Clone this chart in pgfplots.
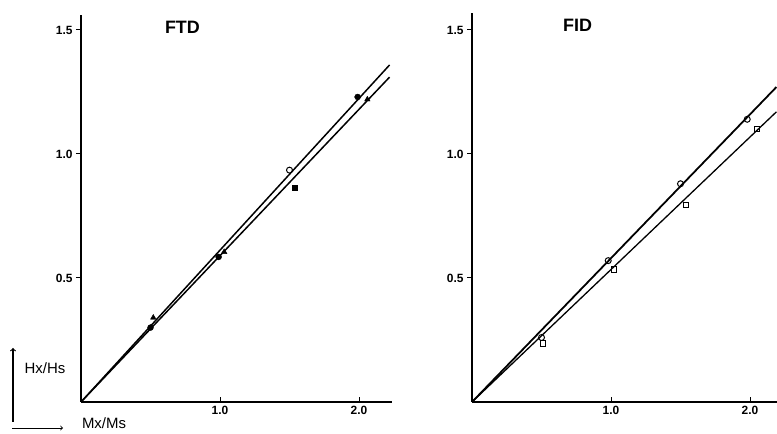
\documentclass[border=0pt]{standalone}
\usepackage{pgfplots}
\pgfplotsset{compat=1.18}
\usepackage{fontspec}
\setmainfont{Liberation Sans}
\begin{document}
\begin{tikzpicture}
\useasboundingbox (0,0) rectangle (777bp,434bp);
\pgfplotsset{panel/.style={
  x=139bp, y=248bp, anchor=origin, xmin=0, ymin=0,
  axis x line=bottom, axis y line=left,
  axis line style={-, line width=1.4pt},
  xtick={1,2}, ytick={0.5,1,1.5},
  xticklabels={1.0,2.0}, yticklabels={0.5,1.0,1.5},
  tick style={black, line width=1pt},
  major tick length=5bp,
  xtick align=inside, ytick align=outside,
  tick label style={font=\fontsize{12}{12}\selectfont\bfseries},
  xticklabel style={yshift=-1bp},
  clip=false,
}}
% Left panel: FTD
\begin{axis}[panel, at={(81bp,32bp)}, xmax=2.24, ymax=1.56]
  \addplot[black, line width=1.5pt] coordinates {(0,0) (2.22,1.359)};
  \addplot[black, line width=1.5pt] coordinates {(0,0) (2.22,1.31)};
  \addplot[only marks, mark=*, mark size=3pt, black] coordinates {(0.50,0.30) (0.99,0.585) (1.99,1.23)};
  \addplot[only marks, mark=o, mark size=3pt, black, line width=1pt] coordinates {(1.50,0.935)};
  \addplot[only marks, mark=square*, mark size=2.6pt, black] coordinates {(1.54,0.865)};
  \addplot[only marks, mark=triangle*, mark size=3.2pt, black] coordinates {(0.52,0.34) (1.03,0.605) (2.06,1.22)};
  \node[font=\fontsize{18}{18}\selectfont\bfseries] at (axis cs:0.73,1.51) {FTD};
\end{axis}
% Right panel: FID
\begin{axis}[panel, at={(472bp,32bp)}, xmax=2.2, ymax=1.57]
  \addplot[black, line width=1.8pt] coordinates {(0,0) (2.19,1.27)};
  \addplot[black, line width=1.3pt] coordinates {(0,0) (2.19,1.17)};
  \addplot[only marks, mark=o, mark size=3pt, black, line width=1pt] coordinates {(0.50,0.26) (0.98,0.57) (1.50,0.88) (1.98,1.14)};
  \addplot[only marks, mark=square, mark size=2.8pt, black, line width=1pt] coordinates {(0.51,0.235) (1.02,0.535) (1.54,0.795) (2.05,1.10)};
  \node[font=\fontsize{18}{18}\selectfont\bfseries] at (axis cs:0.76,1.52) {FID};
\end{axis}
% Axis labels (lower left)
\draw[line width=1.2pt, ->] (13bp,12bp) -- (13bp,86bp);
\draw[line width=0.9pt, ->] (12bp,6bp) -- (63bp,6bp);
\node[font=\fontsize{15}{15}\selectfont] at (45bp,66bp) {Hx/Hs};
\node[font=\fontsize{15}{15}\selectfont] at (104bp,11bp) {Mx/Ms};
\end{tikzpicture}
\end{document}
